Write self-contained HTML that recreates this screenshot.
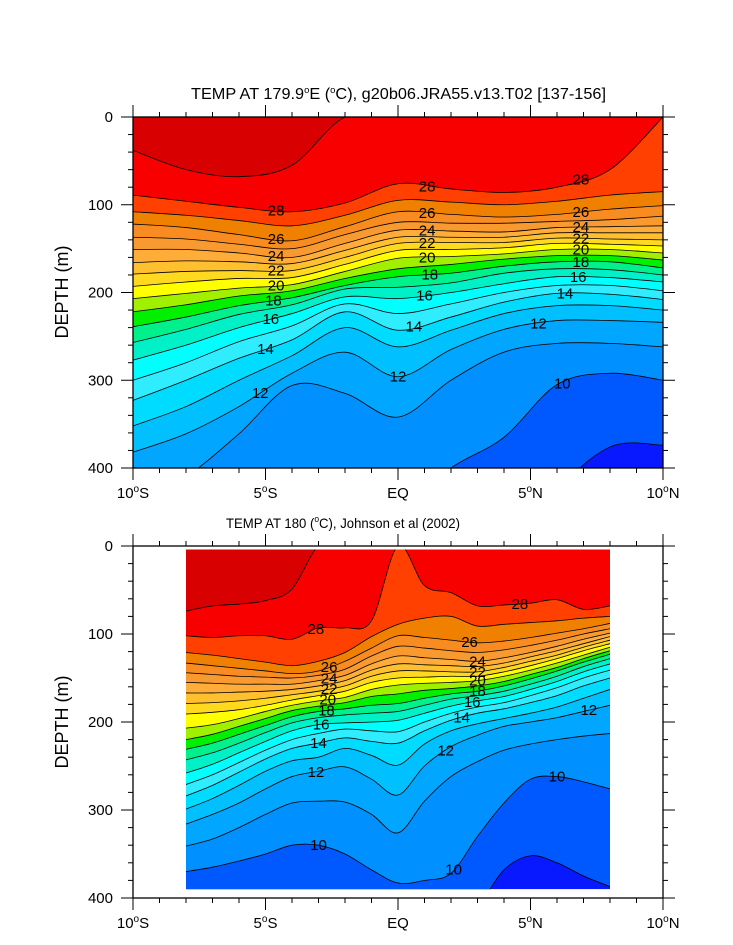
<!DOCTYPE html>
<html><head><meta charset="utf-8">
<style>
html,body{margin:0;padding:0;background:#fff;}
svg{display:block;font-family:"Liberation Sans",Arial,sans-serif;}
</style></head>
<body>
<svg id="fig" width="733" height="945" viewBox="0 0 733 945" xmlns="http://www.w3.org/2000/svg">
<text x="191" y="99" font-size="15.5" textLength="415" lengthAdjust="spacingAndGlyphs">TEMP AT 179.9<tspan font-size="9" dy="-6">o</tspan><tspan dy="6">E (</tspan><tspan font-size="9" dy="-6">o</tspan><tspan dy="6">C), g20b06.JRA55.v13.T02 [137-156]</tspan></text>
<text x="226" y="528" font-size="14" textLength="234" lengthAdjust="spacingAndGlyphs">TEMP AT 180 (<tspan font-size="9" dy="-6">o</tspan><tspan dy="6">C), Johnson et al (2002)</tspan></text>
<text transform="translate(68,292) rotate(-90)" font-size="18" text-anchor="middle">DEPTH (m)</text>
<text transform="translate(68,722) rotate(-90)" font-size="18" text-anchor="middle">DEPTH (m)</text>
<g id="top"></g>
<g id="bot"></g>
</svg>
<script>
// ---------- shared data ----------
const levels = [9,10,11,12,13,14,15,16,17,18,19,20,21,22,23,24,25,26,27,28,29];
const xTickLabels = ["10°S","5°S","EQ","5°N","10°N"];
const xTickLats = [-10,-5,0,5,10];
const yTickValues = [0,100,200,300,400];

// ---------- top chart (model) isotherm depths (m) at topLats ----------
const topLats = [-10,-8,-6,-4,-2,0,2,4,6,8,10];
const topD29 = [38,60,68,55,0,0,0,0,0,0,0];
const topD28 = [89,96,103,108,98,76,82,86,80,60,0];
const topD27 = [108,112,118,124,112,95,97,100,96,89,85];
const topD26 = [122,126,134,141,125,108,111,114,111,105,101];
const topD25 = [137,139,145,150,134,120,121,121,119,117,113];
const topD24 = [151,151,155,160,144,129,130,131,126,125,124];
const topD23 = [166,164,165,167,152,137,137,137,132,132,132];
const topD22 = [179,176,175,175,160,144,143,143,138,139,140];
const topD21 = [193,188,184,183,168,152,151,149,144,145,147];
const topD20 = [207,201,195,191,176,161,159,156,151,151,155];
const topD19 = [222,214,204,198,184,173,168,162,158,158,163];
const topD18 = [239,228,215,206,192,182,178,170,165,165,172];
const topD17 = [257,242,225,214,196,194,189,178,173,174,180];
const topD16 = [277,260,240,224,205,207,200,190,182,183,188];
const topD15 = [300,280,256,238,213,224,213,200,192,192,198];
const topD14 = [323,300,275,254,222,243,228,211,201,202,208];
const topD13 = [352,330,300,272,240,262,243,224,215,215,220];
const topD12 = [382,361,330,292,268,296,265,242,232,232,234];
const topD11 = [440,410,361,306,315,342,300,268,258,258,262];
const topD10 = [520,500,470,450,440,450,400,365,305,292,300];
const topD9  = [560,560,560,560,560,560,560,540,430,376,374];
const topDepths = [topD9,topD10,topD11,topD12,topD13,topD14,topD15,topD16,topD17,topD18,topD19,topD20,topD21,topD22,topD23,topD24,topD25,topD26,topD27,topD28,topD29];
const topLabelLevels = [28,26,24,22,20,18,16,14,12, 28,26,24,22,20,18,16,14,12, 28,26,24,22,20,18,16,14,12,10];
const topLabelLats   = [-4.6,-4.6,-4.6,-4.6,-4.6,-4.7,-4.8,-5,-5.2, 1.1,1.1,1.1,1.1,1.1,1.2,1.0,0.6,0.0, 6.9,6.9,6.9,6.9,6.9,6.9,6.8,6.3,5.3,6.2];

// ---------- bottom chart (Johnson) isotherm depths (m) at botLats ----------
const botLats = [-8,-7,-6,-5,-4,-3,-2,-1,0,1,2,3,4,5,6,7,8];
const botD29 = [74,68,66,62,49,0,0,0,0,0,0,0,0,0,0,0,0];
const botD28 = [102,104,102,102,106,93,93,85,0,45,53,68,67,65,61,72,68];
const botD27 = [121,124,128,132,136,131,121,103,89,82,80,91,89,87,85,82,80];
const botD26 = [133,136,139,142,145,142,131,116,102,104,107,110,108,104,99,94,88];
const botD25 = [144,146,148,149,150,147,140,125,114,116,119,121,118,113,107,100,94];
const botD24 = [155,156,157,157,157,153,147,134,125,127,129,131,127,121,114,106,99];
const botD23 = [167,167,166,165,163,159,153,141,134,135,136,137,133,126,119,111,103];
const botD22 = [179,178,176,173,169,165,159,148,142,142,143,143,138,131,124,115,107];
const botD21 = [191,189,186,181,175,170,165,155,150,149,148,148,143,136,128,119,111];
const botD20 = [207,203,196,188,181,176,172,163,158,156,155,153,148,141,133,124,115];
const botD19 = [220,214,205,196,187,182,178,171,168,164,162,159,154,146,138,128,119];
const botD18 = [231,224,214,204,194,188,185,181,179,173,168,165,159,151,142,132,123];
const botD17 = [243,235,224,212,201,195,192,190,188,181,174,170,165,157,148,137,128];
const botD16 = [258,248,235,222,210,203,201,200,198,190,182,176,171,163,154,143,134];
const botD15 = [271,260,246,232,220,213,208,210,211,200,190,183,178,170,161,150,141];
const botD14 = [284,272,257,242,230,224,218,222,224,210,198,190,185,178,170,159,150];
const botD13 = [299,287,272,256,244,240,230,238,249,225,210,202,196,190,183,173,163];
const botD12 = [316,305,292,276,262,256,251,265,283,250,228,215,205,200,195,188,181];
const botD11 = [341,333,320,305,292,290,291,305,326,290,262,245,232,225,220,216,213];
const botD10 = [370,365,358,350,340,340,350,368,383,380,372,330,292,265,262,268,276];
const botD9  = [430,430,430,430,430,430,430,430,430,430,430,410,368,352,360,375,387];
const botDepths = [botD9,botD10,botD11,botD12,botD13,botD14,botD15,botD16,botD17,botD18,botD19,botD20,botD21,botD22,botD23,botD24,botD25,botD26,botD27,botD28,botD29];
const botLabelLevels = [28,26,24,22,20,18,16,14,12,10, 28,26,24,22,20,18,16,14,12,10,10,12];
const botLabelLats   = [-3.1,-2.6,-2.6,-2.6,-2.65,-2.7,-2.9,-3,-3.1,-3, 4.6,2.7,3.0,3.0,3.0,3.0,2.8,2.4,1.8,2.1,6.0,7.2];

// ---------- styles ----------
const bandColor = {8:"#0818ff",9:"#0058ff",10:"#0090ff",11:"#00a6ff",12:"#00c0ff",13:"#00dcff",14:"#30ecff",15:"#00ffff",16:"#00f0c8",17:"#00f08c",18:"#00f000",19:"#a0f000",20:"#ffff00",21:"#ffd820",22:"#ffc030",23:"#ffac38",24:"#f89a30",25:"#f88c20",26:"#f08000",27:"#ff4000",28:"#f80000",29:"#d80000"};
const NS="http://www.w3.org/2000/svg";
function mk(tag,attrs,parent){const e=document.createElementNS(NS,tag);for(const k in attrs)e.setAttribute(k,attrs[k]);parent.appendChild(e);return e;}

function curve(pts){
  let s="M"+pts[0][0].toFixed(2)+","+pts[0][1].toFixed(2);
  for(let i=0;i<pts.length-1;i++){
    const p0=pts[i-1]||pts[i],p1=pts[i],p2=pts[i+1],p3=pts[i+2]||p2;
    const c1=[p1[0]+(p2[0]-p0[0])/6,p1[1]+(p2[1]-p0[1])/6];
    const c2=[p2[0]-(p3[0]-p1[0])/6,p2[1]-(p3[1]-p1[1])/6];
    s+=" C"+c1[0].toFixed(2)+","+c1[1].toFixed(2)+" "+c2[0].toFixed(2)+","+c2[1].toFixed(2)+" "+p2[0].toFixed(2)+","+p2[1].toFixed(2);
  }
  return s;
}
function interp(lats,vals,lat){
  for(let i=0;i<lats.length-1;i++){if(lat>=lats[i]&&lat<=lats[i+1]){const f=(lat-lats[i])/(lats[i+1]-lats[i]);return vals[i]+f*(vals[i+1]-vals[i]);}}
  return lat<lats[0]?vals[0]:vals[vals.length-1];
}

function drawChart(g,cfg){
  const X=lat=>cfg.x0+(lat+10)/20*(cfg.x1-cfg.x0);
  const Y=d=>cfg.y0+d/400*(cfg.y1-cfg.y0);
  const dx0=X(cfg.lats[0]),dx1=X(cfg.lats[cfg.lats.length-1]),dy0=Y(cfg.d0),dy1=Y(cfg.d1);
  const cp=mk("clipPath",{id:cfg.id+"clip"},g);
  mk("rect",{x:dx0,y:dy0,width:dx1-dx0,height:dy1-dy0},cp);
  const data=mk("g",{"clip-path":"url(#"+cfg.id+"clip)"},g);
  
  
  const bg=mk("rect",{x:dx0,y:dy0,width:dx1-dx0,height:dy1-dy0,fill:bandColor[8]},data);
  
  
  const paths=[];
  levels.forEach((t,i)=>{
    const pts=cfg.lats.map((lat,j)=>[X(lat),Y(cfg.depths[i][j])]);
    const c=curve(pts);paths.push(c);
    const f=mk("path",{d:c+" L"+(dx1+2)+","+(dy0-20)+" L"+(dx0-2)+","+(dy0-20)+" Z",fill:bandColor[t],stroke:"none"},data);
    
    
  });
  levels.forEach((t,i)=>{
    const l=mk("path",{d:paths[i],fill:"none",stroke:"#000","stroke-width":0.8},data);
    
    
  });
  cfg.labLevels.forEach((t,k)=>{
    const i=levels.indexOf(t);const lat=cfg.labLats[k];
    const d=interp(cfg.lats,cfg.depths[i],lat);
    const tx=mk("text",{x:X(lat),y:Y(d)+5,"font-size":15,"text-anchor":"middle",fill:"#000"},g);
    tx.textContent=String(t);
    
    
  });
  const fr=mk("rect",{x:cfg.x0,y:cfg.y0,width:cfg.x1-cfg.x0,height:cfg.y1-cfg.y0,fill:"none",stroke:"#000","stroke-width":1.3},g);
  
  
  for(let lat=-10;lat<=10;lat++){
    const major=lat%5===0;const len=major?12:5;const x=X(lat);
    mk("line",{x1:x,x2:x,y1:cfg.y1,y2:cfg.y1+len,stroke:"#000","stroke-width":1},g);
    mk("line",{x1:x,x2:x,y1:cfg.y0,y2:cfg.y0-len,stroke:"#000","stroke-width":1},g);
  }
  xTickLats.forEach((lat,k)=>{
    const s=xTickLabels[k];
    const tx=mk("text",{x:X(lat),y:cfg.y1+30,"font-size":15,"text-anchor":"middle"},g);
    if(s.includes("°")){const p=s.split("°");
      const a=mk("tspan",{},tx);a.textContent=p[0];
      const b=mk("tspan",{"font-size":10,dy:-6},tx);b.textContent="o";
      const c=mk("tspan",{dy:6},tx);c.textContent=p[1];}
    else tx.textContent=s;
    
    
  });
  for(let d=0;d<=400;d+=20){
    const major=d%100===0;const len=major?12:5;const y=Y(d);
    mk("line",{x1:cfg.x0,x2:cfg.x0-len,y1:y,y2:y,stroke:"#000","stroke-width":1},g);
    mk("line",{x1:cfg.x1,x2:cfg.x1+len,y1:y,y2:y,stroke:"#000","stroke-width":1},g);
  }
  yTickValues.forEach(v=>{
    const tx=mk("text",{x:cfg.x0-20,y:Y(v)+5,"font-size":15,"text-anchor":"end"},g);
    tx.textContent=String(v);
    
    
  });
}
drawChart(document.getElementById("top"),{id:"top",x0:133,x1:663,y0:117,y1:468,d0:0,d1:400,lats:topLats,depths:topDepths,labLevels:topLabelLevels,labLats:topLabelLats});
drawChart(document.getElementById("bot"),{id:"bot",x0:133,x1:663,y0:546,y1:898,d0:4,d1:390,lats:botLats,depths:botDepths,labLevels:botLabelLevels,labLats:botLabelLats});
</script>
</body></html>
